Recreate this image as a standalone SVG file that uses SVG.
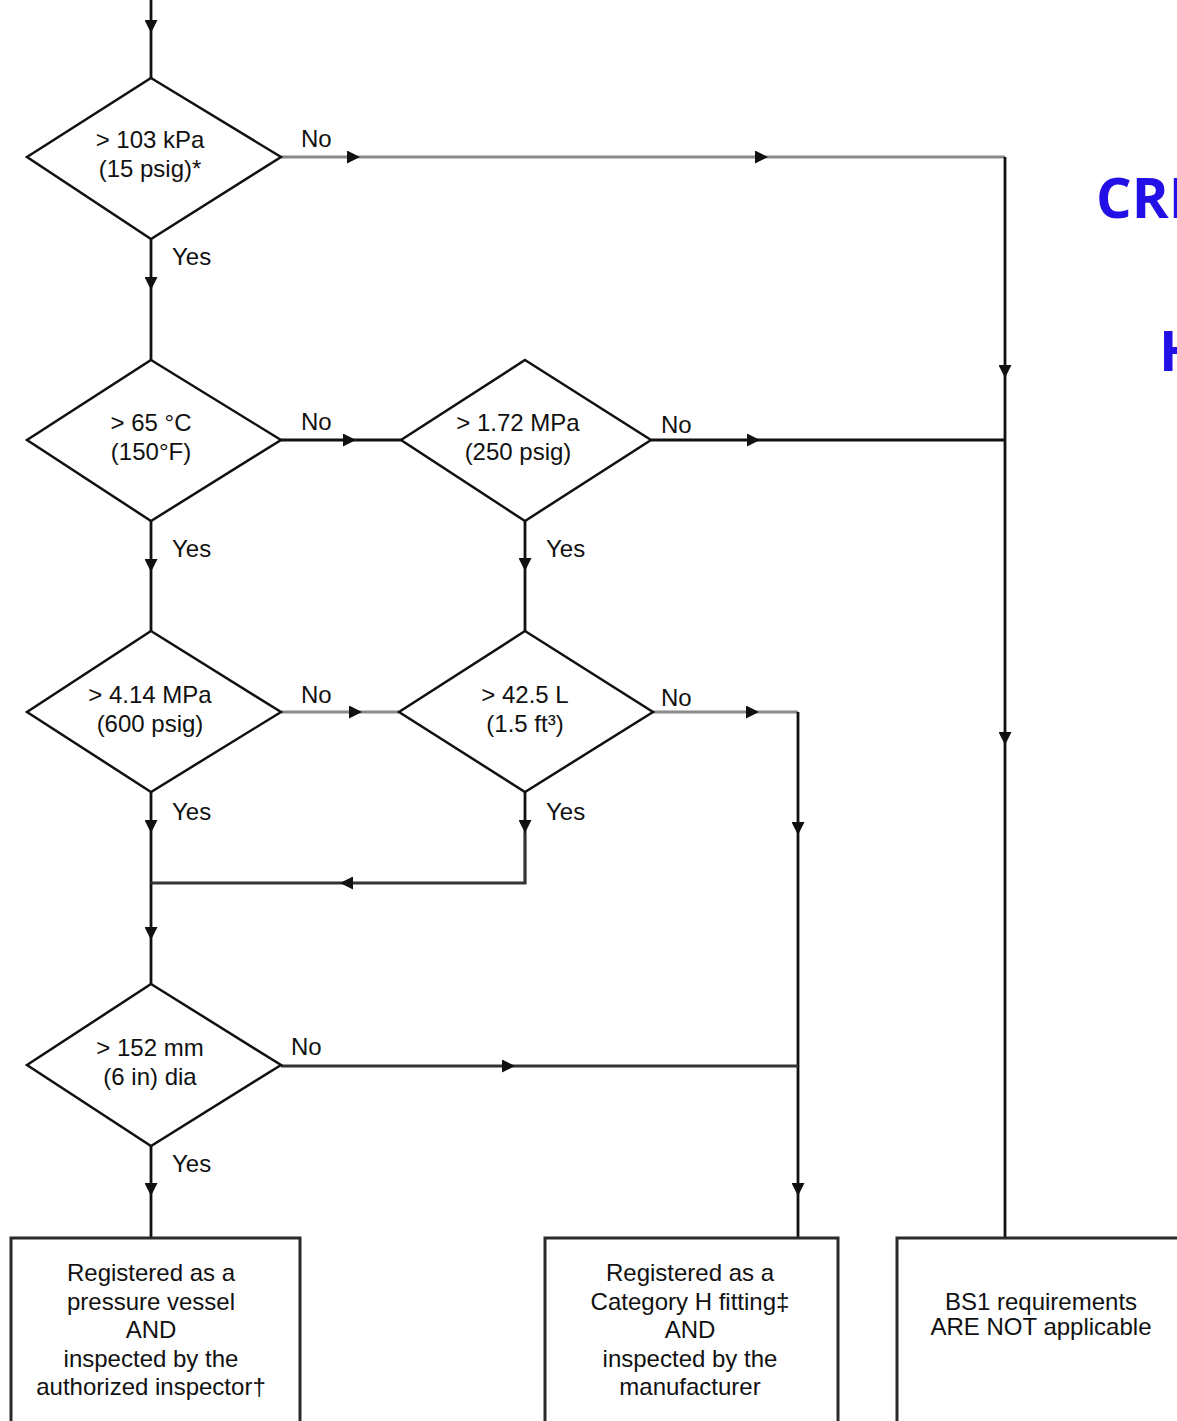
<svg xmlns="http://www.w3.org/2000/svg" width="1177" height="1421" viewBox="0 0 1177 1421">
<style>
.d{fill:#fff;stroke:#111;stroke-width:2.5}
.c{fill:none;stroke:#111;stroke-width:2.8}
.g{stroke:#8a8a8a;stroke-width:3.2}
.k{stroke:#333;stroke-width:3.2}
.b{fill:#fff;stroke:#2a2a2a;stroke-width:3}
text{font-family:"Liberation Sans",Arial,sans-serif;font-size:24px;fill:#111}
.m{text-anchor:middle}
.t{font-family:"Open Sans","Liberation Sans",sans-serif;font-weight:bold;font-size:56px;fill:#2210e6}
</style>
<defs>
<marker id="a" viewBox="0 0 10 10" refX="10" refY="5" markerWidth="13" markerHeight="13" markerUnits="userSpaceOnUse" orient="auto">
<path d="M0,0 L10,5 L0,10 z" fill="#111"/>
</marker>
</defs>
<g id="connectors">
<path class="c" d="M151,0 V33" marker-end="url(#a)"/><path class="c" d="M151,33 V78"/>
<path class="c g" d="M281,157 H360" marker-end="url(#a)"/><path class="c g" d="M360,157 H768" marker-end="url(#a)"/><path class="c g" d="M768,157 H1005"/>
<path class="c" d="M1005,157 V378" marker-end="url(#a)"/><path class="c" d="M1005,378 V745" marker-end="url(#a)"/><path class="c" d="M1005,745 V1238"/>
<path class="c" d="M151,239 V290" marker-end="url(#a)"/><path class="c" d="M151,290 V360"/>
<path class="c" d="M281,440 H356" marker-end="url(#a)"/><path class="c" d="M356,440 H401"/>
<path class="c" d="M651,440 H760" marker-end="url(#a)"/><path class="c" d="M760,440 H1005"/>
<path class="c" d="M151,521 V572" marker-end="url(#a)"/><path class="c" d="M151,572 V631"/>
<path class="c" d="M525,521 V571" marker-end="url(#a)"/><path class="c" d="M525,571 V631"/>
<path class="c g" d="M281,712 H362" marker-end="url(#a)"/><path class="c g" d="M362,712 H399"/>
<path class="c g" d="M653,712 H759" marker-end="url(#a)"/><path class="c g" d="M759,712 H798"/>
<path class="c" d="M798,712 V835" marker-end="url(#a)"/><path class="c" d="M798,835 V1196" marker-end="url(#a)"/><path class="c" d="M798,1196 V1238"/>
<path class="c" d="M151,792 V833" marker-end="url(#a)"/><path class="c" d="M151,833 V940" marker-end="url(#a)"/><path class="c" d="M151,940 V984"/>
<path class="c" d="M525,792 V833" marker-end="url(#a)"/><path class="c k" d="M525,833 V883 H340" marker-end="url(#a)"/><path class="c k" d="M340,883 H151"/>
<path class="c k" d="M281,1066 H515" marker-end="url(#a)"/><path class="c k" d="M515,1066 H798"/>
<path class="c" d="M151,1146 V1196" marker-end="url(#a)"/><path class="c" d="M151,1196 V1238"/>
</g>
<g id="d1"><polygon class="d" points="151,78 281,157 151,239 27,157"/>
<text class="m" x="150" y="148">&gt; 103 kPa</text><text class="m" x="150" y="177">(15 psig)*</text></g>
<g id="d2"><polygon class="d" points="151,360 281,440 151,521 27,440"/>
<text class="m" x="151" y="431">&gt; 65 °C</text><text class="m" x="151" y="460">(150°F)</text></g>
<g id="d3"><polygon class="d" points="525,360 651,440 525,521 401,440"/>
<text class="m" x="518" y="431">&gt; 1.72 MPa</text><text class="m" x="518" y="460">(250 psig)</text></g>
<g id="d4"><polygon class="d" points="151,631 281,712 151,792 27,712"/>
<text class="m" x="150" y="703">&gt; 4.14 MPa</text><text class="m" x="150" y="732">(600 psig)</text></g>
<g id="d5"><polygon class="d" points="525,631 653,712 525,792 399,712"/>
<text class="m" x="525" y="703">&gt; 42.5 L</text><text class="m" x="525" y="732">(1.5 ft³)</text></g>
<g id="d6"><polygon class="d" points="151,984 281,1065 151,1146 27,1065"/>
<text class="m" x="150" y="1056">&gt; 152 mm</text><text class="m" x="150" y="1085">(6 in) dia</text></g>
<g id="labels">
<text x="301" y="147">No</text><text x="301" y="430">No</text><text x="661" y="433">No</text>
<text x="301" y="703">No</text><text x="661" y="706">No</text><text x="291" y="1055">No</text>
<text x="172" y="265">Yes</text><text x="172" y="557">Yes</text><text x="546" y="557">Yes</text>
<text x="172" y="820">Yes</text><text x="546" y="820">Yes</text><text x="172" y="1172">Yes</text>
</g>
<g id="box1"><rect class="b" x="11" y="1238" width="289" height="200"/>
<text class="m" x="151" y="1281">Registered as a</text><text class="m" x="151" y="1310">pressure vessel</text><text class="m" x="151" y="1338">AND</text><text class="m" x="151" y="1367">inspected by the</text><text class="m" x="151" y="1395">authorized inspector†</text></g>
<g id="box2"><rect class="b" x="545" y="1238" width="293" height="200"/>
<text class="m" x="690" y="1281">Registered as a</text><text class="m" x="690" y="1310">Category H fitting‡</text><text class="m" x="690" y="1338">AND</text><text class="m" x="690" y="1367">inspected by the</text><text class="m" x="690" y="1395">manufacturer</text></g>
<g id="box3"><rect class="b" x="897" y="1238" width="320" height="200"/>
<text class="m" x="1041" y="1310">BS1 requirements</text><text class="m" x="1041" y="1335">ARE NOT applicable</text></g>
<text class="t" x="1096" y="218">CRI</text>
<text class="t" x="1159" y="371">H</text>
</svg>
